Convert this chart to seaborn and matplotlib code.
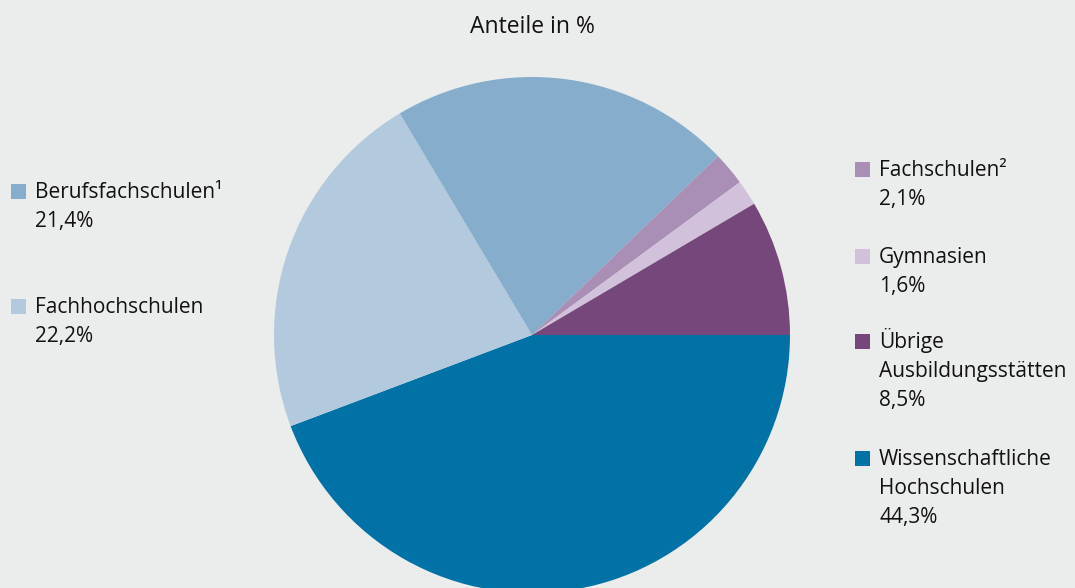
import matplotlib
matplotlib.use("Agg")
import matplotlib.pyplot as plt
import seaborn as sns
from matplotlib.patches import Rectangle

# Data
categories = ["Wissenschaftliche\nHochschulen", "Fachhochschulen", "Berufsfachschulen¹",
              "Fachschulen²", "Gymnasien", "Übrige\nAusbildungsstätten"]
values = [44.3, 22.2, 21.4, 2.1, 1.6, 8.5]
value_labels = ["44,3%", "22,2%", "21,4%", "2,1%", "1,6%", "8,5%"]
colors = ["#0072a6", "#b3c9de", "#86adcc", "#a98fb6", "#d1c1db", "#76477b"]
title = "Anteile in %"

BG = "#ebedec"
TXT = "#111111"

sns.set_theme(style="white")
plt.rcParams["font.family"] = ["Open Sans", "Noto Sans", "DejaVu Sans"]

W, H = 1075, 588
fig = plt.figure(figsize=(W / 100, H / 100), dpi=100, facecolor=BG)

cx, cy, r = 532, 335, 258
ax = fig.add_axes([(cx - r) / W, (H - cy - r) / H, 2 * r / W, 2 * r / H])
ax.set_facecolor(BG)
palette = sns.color_palette(colors)
ax.pie(values, colors=palette, startangle=0, counterclock=False,
       wedgeprops=dict(linewidth=0), radius=1.0)
ax.set_xlim(-1, 1)
ax.set_ylim(-1, 1)
ax.set_aspect("equal")
ax.axis("off")

fs = 15


def px(x, y):
    return x / W, 1 - y / H


fig.text(*px(532, 33), title, ha="center", va="baseline", fontsize=16.5, color=TXT)

# legend layout: (index, x_square, first baseline)
layout = [
    (2, 11, 198),
    (1, 11, 313),
    (3, 855, 176),
    (4, 855, 263),
    (5, 855, 348),
    (0, 855, 465),
]
line_h = 29
for idx, xs, yb in layout:
    fig.patches.append(Rectangle(px(xs, yb + 1), 15 / W, 15 / H,
                                 transform=fig.transFigure, facecolor=colors[idx],
                                 edgecolor="none"))
    lines = categories[idx].split("\n") + [value_labels[idx]]
    for k, line in enumerate(lines):
        fig.text(*px(xs + 24, yb + k * line_h), line, ha="left", va="baseline",
                 fontsize=fs, color=TXT)

fig.savefig("out.png", dpi=100, facecolor=BG)
